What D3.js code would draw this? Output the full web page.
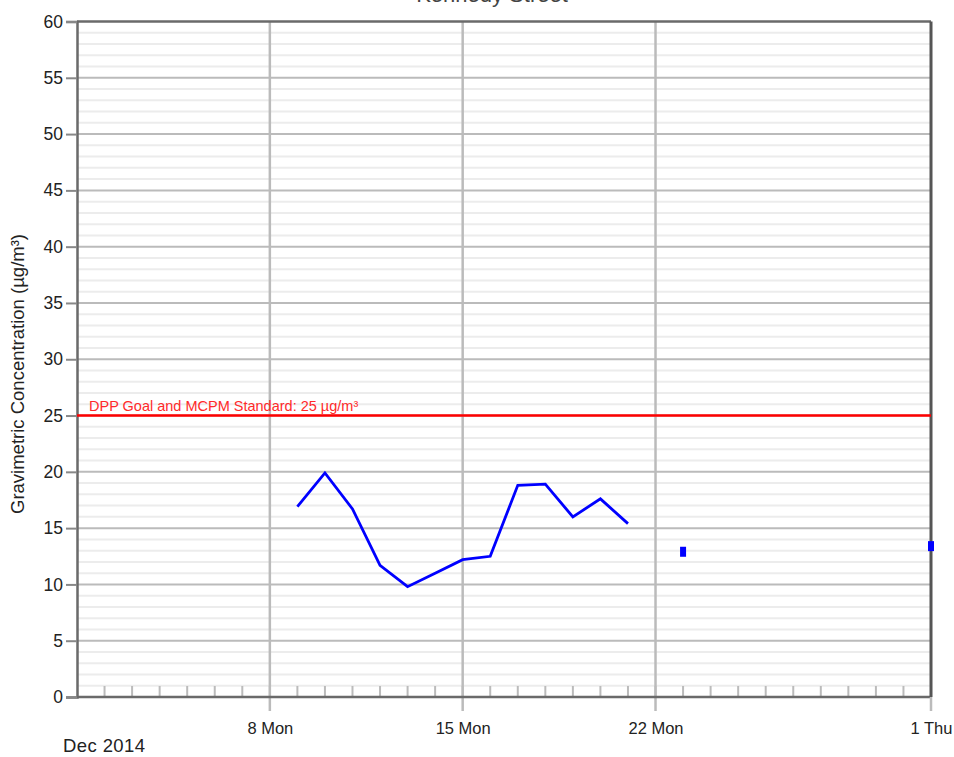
<!DOCTYPE html>
<html>
<head>
<meta charset="utf-8">
<script src="https://cdn.jsdelivr.net/npm/d3@7"></script>
<style>
  body { margin: 0; background: #fff; }
  svg { display: block; font-family: "Liberation Sans", Arial, sans-serif; }
</style>
</head>
<body>
<svg></svg>
<script>
// line series, one value per day
let lineDates = ['2014-12-09','2014-12-10','2014-12-11','2014-12-12','2014-12-13','2014-12-14','2014-12-15',
                 '2014-12-16','2014-12-17','2014-12-18','2014-12-19','2014-12-20','2014-12-21']
let lineValues = [16.9, 19.9, 16.7, 11.7, 9.8, 11.0, 12.2, 12.5, 18.8, 18.9, 16.0, 17.6, 15.4]

// isolated samples (no neighbours, drawn as markers)
let pointDates = ['2014-12-23','2015-01-01']
let pointValues = [12.9, 13.4]

let xTickDates = ['2014-12-08','2014-12-15','2014-12-22','2015-01-01']
let yTicks = [0,5,10,15,20,25,30,35,40,45,50,55,60]
let goalValue = 25
let goalLabel = 'DPP Goal and MCPM Standard: 25 µg/m³'
let title = 'Kennedy Street'
let yLabel = 'Gravimetric Concentration (µg/m³)'
let monthLabel = 'Dec 2014'

let width = 954
let height = 757
let plotLeft = 77
let plotRight = 931
let plotTop = 21.5
let plotBottom = 697

let parse = d3.timeParse('%Y-%m-%d')
let svg = d3.select('svg').attr('width', width).attr('height', height)

let xScale = d3.scaleTime()
               .domain([parse('2014-12-01'), parse('2015-01-01')])
               .range([plotLeft, plotRight])
let yScale = d3.scaleLinear()
               .domain([0, 60])
               .range([plotBottom, plotTop])

// minor horizontal grid, every unit
svg.append('g')
   .selectAll('line')
   .data(d3.range(1, 60).filter((v) => v % 5 != 0))
   .enter()
   .append('line')
   .attr('x1', plotLeft).attr('x2', plotRight)
   .attr('y1', (d) => yScale(d)).attr('y2', (d) => yScale(d))
   .attr('stroke', '#ececec').attr('stroke-width', 2)

// major horizontal grid
svg.append('g')
   .selectAll('line')
   .data(yTicks.filter((v) => v > 0 && v < 60))
   .enter()
   .append('line')
   .attr('x1', plotLeft).attr('x2', plotRight)
   .attr('y1', (d) => yScale(d)).attr('y2', (d) => yScale(d))
   .attr('stroke', '#bbb').attr('stroke-width', 2)

// daily ticks along the bottom
let days = d3.timeDay.range(parse('2014-12-02'), parse('2015-01-01'))
svg.append('g')
   .selectAll('line')
   .data(days)
   .enter()
   .append('line')
   .attr('x1', (d) => xScale(d)).attr('x2', (d) => xScale(d))
   .attr('y1', plotBottom).attr('y2', plotBottom - 11)
   .attr('stroke', '#bbb').attr('stroke-width', 2)

// weekly vertical grid
let xTicks = xTickDates.map(parse)
svg.append('g')
   .selectAll('line')
   .data(xTicks.slice(0, 3))
   .enter()
   .append('line')
   .attr('x1', (d) => xScale(d)).attr('x2', (d) => xScale(d))
   .attr('y1', plotTop).attr('y2', plotBottom + 14)
   .attr('stroke', '#bbb').attr('stroke-width', 2.5)

// frame
svg.append('line').attr('x1', plotLeft).attr('x2', plotRight).attr('y1', plotTop).attr('y2', plotTop)
   .attr('stroke', '#6a6a6a').attr('stroke-width', 2.5)
svg.append('line').attr('x1', plotLeft).attr('x2', plotRight).attr('y1', plotBottom).attr('y2', plotBottom)
   .attr('stroke', '#6a6a6a').attr('stroke-width', 2.5)
svg.append('line').attr('x1', plotRight).attr('x2', plotRight).attr('y1', plotBottom).attr('y2', plotBottom + 14)
   .attr('stroke', '#bbb').attr('stroke-width', 2.5)
svg.append('line').attr('x1', plotRight).attr('x2', plotRight).attr('y1', plotTop).attr('y2', plotBottom)
   .attr('stroke', '#555').attr('stroke-width', 3)

// y axis
let yAxis = d3.axisLeft(yScale).tickValues(yTicks).tickSize(11).tickPadding(3)
let yg = svg.append('g')
            .attr('transform', 'translate(' + plotLeft + ',0)')
            .call(yAxis)
yg.select('.domain').attr('stroke', '#6a6a6a').attr('stroke-width', 2.5)
yg.selectAll('.tick line').attr('stroke', '#888').attr('stroke-width', 2)
yg.selectAll('.tick text').attr('font-size', 17.5).attr('fill', '#222')
  .attr('font-family', '"Liberation Sans", Arial, sans-serif')

// x labels
let xg = svg.append('g')
            .attr('transform', 'translate(0,' + plotBottom + ')')
            .call(d3.axisBottom(xScale).tickValues(xTicks).tickSize(0).tickPadding(25)
                    .tickFormat(d3.timeFormat('%-d %a')))
xg.select('.domain').remove()
xg.selectAll('.tick text').attr('font-size', 16.5).attr('fill', '#222')
  .attr('font-family', '"Liberation Sans", Arial, sans-serif')

svg.append('text')
   .attr('x', 63).attr('y', 752)
   .attr('font-size', 18.5).attr('fill', '#222')
   .attr('textLength', 82)
   .text(monthLabel)

// goal line
svg.append('line')
   .attr('x1', plotLeft).attr('x2', plotRight)
   .attr('y1', yScale(goalValue)).attr('y2', yScale(goalValue))
   .attr('stroke', '#ff0000').attr('stroke-width', 2.5)
svg.append('text')
   .attr('x', 89).attr('y', yScale(goalValue) - 5)
   .attr('font-size', 14.5).attr('fill', '#ff2a2a')
   .text(goalLabel)

// data line
let lineData = lineDates.map((d, i) => [parse(d), lineValues[i]])
let line = d3.line().x((d) => xScale(d[0])).y((d) => yScale(d[1]))
svg.append('path')
   .datum(lineData)
   .attr('d', line)
   .attr('fill', 'none')
   .attr('stroke', '#0000ff')
   .attr('stroke-width', 2.8)
   .attr('stroke-linejoin', 'miter')

// single points
svg.append('g')
   .selectAll('rect')
   .data(pointDates.map((d, i) => [parse(d), pointValues[i]]))
   .enter()
   .append('rect')
   .attr('x', (d) => xScale(d[0]) - 3)
   .attr('y', (d) => yScale(d[1]) - 5)
   .attr('width', 6).attr('height', 10)
   .attr('fill', '#0000ff')

// title, mostly above the page edge (as in the source image)
svg.append('text')
   .attr('x', 492).attr('y', 2)
   .attr('text-anchor', 'middle')
   .attr('font-size', 22).attr('fill', '#444')
   .text(title)

svg.append('text')
   .attr('transform', 'translate(24,' + 374 + ') rotate(-90)')
   .attr('text-anchor', 'middle')
   .attr('font-size', 18.5).attr('fill', '#222')
   .text(yLabel)
</script>
</body>
</html>
